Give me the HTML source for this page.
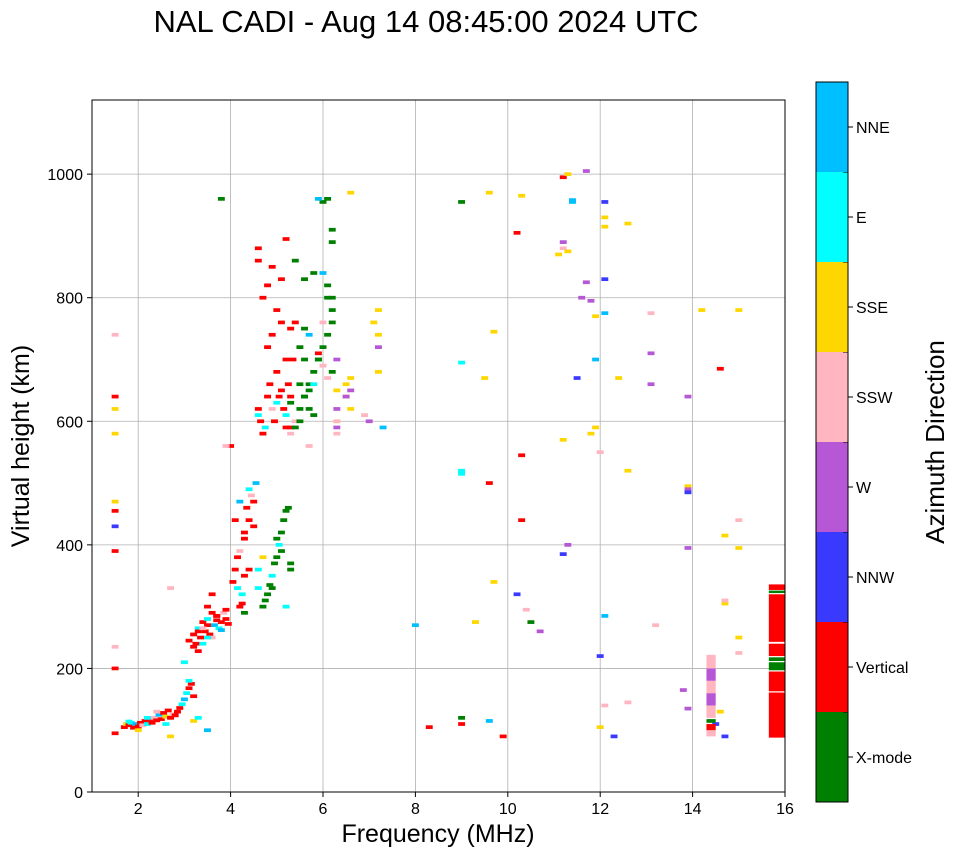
<!DOCTYPE html>
<html><head><meta charset="utf-8"><style>
body{margin:0;background:#fff;font-family:"Liberation Sans",sans-serif}
svg text{font-family:"Liberation Sans",sans-serif}
</style></head><body>
<svg id="chart" width="958" height="857">
<defs><clipPath id="pc"><rect x="92" y="100" width="693" height="692"/></clipPath></defs>
<text x="426" y="32" font-size="31" text-anchor="middle">NAL CADI - Aug 14 08:45:00 2024 UTC</text>
<g id="grid"></g>
<g id="marks" clip-path="url(#pc)"></g>
<rect x="92" y="100" width="693" height="692" fill="none" stroke="#000" stroke-width="1"/>
<g id="ticks"></g>
<text x="438" y="842" font-size="25" text-anchor="middle">Frequency (MHz)</text>
<text transform="translate(29,446) rotate(-90)" font-size="25" text-anchor="middle">Virtual height (km)</text>
<g id="cbar"></g>
<text transform="translate(944,442) rotate(-90)" font-size="26" text-anchor="middle">Azimuth Direction</text>
</svg>
<script>
const xTicks=[2,4,6,8,10,12,14,16];
const yTicks=[0,200,400,600,800,1000];
const dirNames=["X-mode","Vertical","NNW","W","SSW","SSE","E","NNE"];
const dirColors=["#008000","#ff0000","#3a3aff","#b658d6","#ffb6c1","#ffd700","#00ffff","#00bfff"];
// echo points: frequency (MHz), virtual height (km), direction index
const freqs=[
1.5,1.5,1.5,1.5,1.5,1.5,1.5,1.5,1.7,1.75,1.8,1.85,1.9,1.95,2.0,2.05,2.1,2.15,2.2,2.25,2.3,2.35,2.4,2.45,2.5,2.55,2.6,2.65,2.7,2.75,2.8,2.85,2.9,2.95,3.0,3.05,3.1,3.15,3.2,1.8,2.0,2.2,2.4,2.6,3.0,3.1,
3.1,3.2,3.25,3.3,3.35,3.4,3.45,3.5,3.55,3.6,3.65,3.7,3.75,3.8,3.85,3.9,3.95,3.2,3.3,3.4,3.5,3.6,3.7,3.8,3.9,3.3,3.5,3.7,3.5,3.4,3.6,
4.05,4.1,4.15,4.2,4.25,4.3,4.1,4.2,4.3,4.2,4.25,4.15,4.3,4.35,4.4,4.4,4.45,4.5,4.55,4.6,4.5,4.6,4.7,4.4,4.3,
4.7,4.75,4.8,4.85,4.9,4.95,5.0,5.05,5.1,5.15,5.2,5.25,5.3,5.1,5.2,4.9,5.0,5.3,5.2,
4.6,4.6,4.65,4.7,4.75,4.8,4.85,4.9,4.95,5.0,5.05,5.1,5.15,5.2,5.25,5.3,5.35,4.8,4.9,5.0,5.1,5.2,5.3,4.7,4.6,4.6,5.0,5.1,5.4,4.8,4.9,5.2,5.3,4.0,3.9,
5.3,5.4,5.5,5.6,5.7,5.8,5.9,6.0,6.1,6.2,6.2,6.2,6.1,6.0,5.9,5.8,5.7,5.6,5.5,5.4,6.2,6.2,6.1,6.0,5.9,6.2,5.5,5.6,5.7,5.8,5.3,5.4,5.5,5.6,5.7,5.8,6.1,6.0,5.6,5.7,
6.3,6.3,6.3,6.5,6.5,6.6,6.6,6.3,7.2,7.2,7.1,7.2,6.5,6.6,6.9,6.3,6.1,5.9,6.3,7.2,7.3,7.0,6.6,6.0,6.3,
1.5,1.5,1.5,2.7,2.7,3.2,3.3,3.5,3.8,9.0,9.0,9.0,9.0,9.6,9.6,9.0,9.0,9.3,8.0,8.3,9.5,9.7,9.7,9.6,9.9,10.3,10.3,10.2,10.4,10.7,10.5,10.3,10.2,
11.2,11.2,11.2,11.1,11.3,11.3,11.4,11.4,11.6,11.8,11.9,11.9,11.9,11.8,11.7,12.1,12.1,12.1,12.1,12.1,12.1,12.0,12.0,12.1,12.4,12.6,12.6,13.1,13.1,13.1,13.2,12.0,12.3,12.6,11.5,11.3,11.2,11.2,11.7,
13.9,13.9,13.9,13.9,13.9,13.9,13.8,14.2,14.7,14.7,14.6,14.6,14.5,14.7,15.0,15.0,15.0,15.0,15.0,14.7,14.3];
const heights=[
95,200,235,390,430,455,640,740,105,110,108,112,104,110,106,112,108,115,110,118,112,120,116,125,118,128,122,132,120,126,124,130,136,142,150,160,168,175,155,114,100,120,130,110,210,180,
245,255,240,265,250,275,260,280,255,290,270,285,265,275,290,280,272,235,260,240,270,250,285,262,295,228,300,278,250,265,
320,340,360,380,300,320,410,440,470,350,390,305,330,420,460,490,440,480,470,500,360,430,330,380,360,
290,300,310,320,335,350,370,380,400,420,440,455,460,360,390,300,330,410,370,
590,620,610,600,580,590,640,660,620,600,630,640,650,620,610,660,640,700,720,740,680,760,700,750,800,860,880,780,830,760,820,850,895,590,560,
560,580,600,620,640,660,680,700,720,740,760,780,800,820,840,700,660,620,640,600,860,890,910,960,955,960,680,720,750,650,610,630,590,660,700,740,840,800,760,830,
560,580,620,600,640,660,670,650,700,720,740,760,680,640,620,610,590,670,710,650,780,590,600,970,690,
600,620,580,470,330,90,115,120,100,960,955,520,515,695,970,115,120,110,275,270,105,670,745,340,500,90,545,440,320,295,260,275,965,
905,890,995,880,870,875,1000,955,958,800,795,770,700,590,580,1005,955,930,915,830,775,285,105,550,140,670,145,920,775,710,660,270,220,90,520,670,400,385,570,
825,640,495,490,485,395,135,165,780,415,305,685,130,110,90,440,395,250,225,780,310];
const dirs=[
1,1,4,1,2,1,1,4,1,5,1,6,1,7,1,1,4,1,6,1,1,4,1,7,1,1,5,1,1,4,1,1,1,6,7,6,1,1,1,6,5,6,4,6,6,6,
1,1,1,6,1,1,1,6,1,1,7,1,6,1,4,1,1,1,1,6,1,4,1,7,1,1,1,1,6,4,
1,1,1,1,1,6,1,1,7,1,4,1,6,1,1,6,1,4,1,7,6,1,6,5,1,
0,0,0,0,0,6,0,0,6,0,0,0,0,0,0,6,0,0,0,
1,1,6,1,1,6,1,1,4,1,6,1,1,1,6,1,1,1,1,1,1,1,1,1,1,1,1,1,1,1,1,1,1,1,1,
4,4,4,0,0,0,0,0,0,0,0,0,0,0,7,0,6,0,0,0,0,0,0,0,0,7,0,0,0,0,0,0,0,0,0,7,0,0,4,0,
4,4,3,5,5,5,5,3,3,3,5,5,5,3,5,4,3,4,1,5,5,7,3,5,4,
4,5,5,5,4,5,5,6,7,0,0,6,6,6,5,7,0,1,5,7,1,5,5,5,1,1,1,1,2,4,3,0,5,
1,3,1,4,5,5,5,7,7,3,3,5,7,5,5,3,2,5,5,2,7,7,5,4,4,5,4,5,4,3,3,4,2,2,5,2,3,2,5,
3,3,5,3,2,3,3,3,5,5,5,1,5,2,2,4,5,5,4,5,4];
// solid echo columns: start/end frequency (MHz), bottom/top height (km), direction index
const colFreqStart=[14.3,14.3,14.3,14.3,14.3,14.3,14.3,14.3,14.3,15.65,15.65,15.65,15.65,15.65,15.65,15.65,15.65];
const colFreqEnd=[14.5,14.5,14.5,14.5,14.5,14.5,14.5,14.5,14.5,16.05,16.05,16.05,16.05,16.05,16.05,16.05,16.05];
const colBottom=[90,100,112,120,140,160,180,200,208,88,163,197,212,220,243,322,327];
const colTop=[100,110,118,140,160,180,200,208,222,161,195,210,218,240,320,326,336];
const colDir=[4,1,0,4,3,4,3,4,4,1,1,0,0,1,1,0,1];
const X0=92,X1=785,Y0=792,Y1=100,FMIN=1,FMAX=16,HMIN=0,HMAX=1120;
const xs=f=>X0+(f-FMIN)/(FMAX-FMIN)*(X1-X0);
const ys=h=>Y0-(h-HMIN)/(HMAX-HMIN)*(Y0-Y1);
const NS="http://www.w3.org/2000/svg";
function mk(tag,attrs,parent){const e=document.createElementNS(NS,tag);for(const k in attrs)e.setAttribute(k,attrs[k]);parent.appendChild(e);return e;}
const grid=document.getElementById('grid'),ticks=document.getElementById('ticks'),marks=document.getElementById('marks'),cbar=document.getElementById('cbar');
xTicks.forEach(v=>{const x=xs(v);
 const g=mk('line',{x1:x,x2:x,y1:Y1,y2:Y0,stroke:'#b0b0b0','stroke-width':0.8},grid);
 
 
 mk('line',{x1:x,x2:x,y1:Y0,y2:Y0+5,stroke:'#000'},ticks);
 const t=mk('text',{x:x,y:Y0+22,'font-size':16,'text-anchor':'middle'},ticks);t.textContent=v;
 
 
});
yTicks.forEach(v=>{const y=ys(v);
 const g=mk('line',{x1:X0,x2:X1,y1:y,y2:y,stroke:'#b0b0b0','stroke-width':0.8},grid);
 
 
 mk('line',{x1:X0-5,x2:X0,y1:y,y2:y,stroke:'#000'},ticks);
 const t=mk('text',{x:X0-9,y:y+6,'font-size':16,'text-anchor':'end'},ticks);t.textContent=v;
 
 
});
const W=xs(1.15)-xs(1),H=ys(0)-ys(6);
const n=Math.min(freqs.length,heights.length,dirs.length);
for(let i=0;i<n;i++){
 const r=mk('rect',{x:xs(freqs[i])-W/2,y:ys(heights[i])-H/2,width:W,height:H,fill:dirColors[dirs[i]]},marks);
 
 
}
for(let i=0;i<colFreqStart.length;i++){
 const r=mk('rect',{x:xs(colFreqStart[i]),y:ys(colTop[i]),width:xs(colFreqEnd[i])-xs(colFreqStart[i]),height:ys(colBottom[i])-ys(colTop[i]),fill:dirColors[colDir[i]]},marks);
 
 
}
const CX=816,CW=32,CT=82,CB=802,seg=(CB-CT)/dirNames.length;
dirNames.forEach((nm,i)=>{const y0=CB-(i+1)*seg;
 const r=mk('rect',{x:CX,y:y0,width:CW,height:seg,fill:dirColors[i]},cbar);
 
 
 mk('line',{x1:CX+CW,x2:CX+CW+5,y1:y0+seg/2,y2:y0+seg/2,stroke:'#000'},cbar);
 mk('line',{x1:CX+CW-5,x2:CX+CW,y1:y0,y2:y0,stroke:'#000'},cbar);
 const t=mk('text',{x:CX+CW+8,y:y0+seg/2+6,'font-size':16},cbar);t.textContent=nm;
 
 
});
mk('rect',{x:CX,y:CT,width:CW,height:CB-CT,fill:'none',stroke:'#000'},cbar);
</script>
</body></html>
